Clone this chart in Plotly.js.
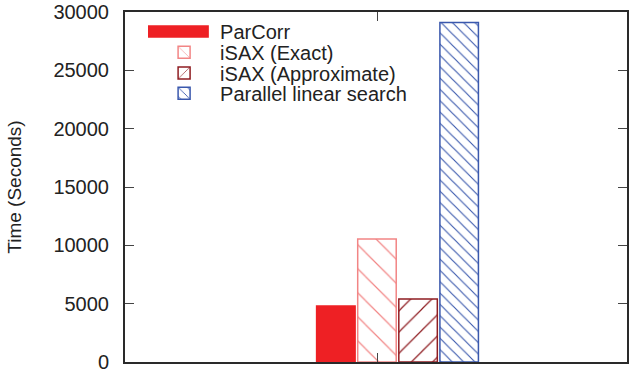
<!DOCTYPE html>
<html>
<head>
<meta charset="utf-8">
<script src="https://cdn.plot.ly/plotly-3.0.1.min.js"></script>
<style>
html,body{margin:0;padding:0;background:#fff;}
#chart{width:629px;height:372px;}
</style>
</head>
<body>
<div id="chart"></div>
<script>
// ---- data ----
const seriesNames = ['ParCorr', 'iSAX (Exact)', 'iSAX (Approximate)', 'Parallel linear search'];
const timeSeconds = [4800, 10550, 5400, 29100];
const groupPosition = [0];
const yTickValues = [0, 5000, 10000, 15000, 20000, 25000, 30000];
const yTickLabels = ['0', '5000', '10000', '15000', '20000', '25000', '30000'];

// ---- styles ----
const styles = [
  {color: '#ee2024', pattern: {shape: ''}},
  {color: '#f28585', pattern: {shape: '\\', size: 17, solidity: 0.07, fgcolor: '#f28585', bgcolor: '#ffffff'}},
  {color: '#8f1d22', pattern: {shape: '/', size: 15, solidity: 0.08, fgcolor: '#8f1d22', bgcolor: '#ffffff'}},
  {color: '#3a58ad', pattern: {shape: '\\', size: 8, solidity: 0.14, fgcolor: '#3a58ad', bgcolor: '#ffffff'}}
];
const legendNames = ['legend', 'legend2', 'legend3', 'legend4'];

const traces = seriesNames.map((name, i) => ({
  type: 'bar',
  name: name,
  x: groupPosition,
  y: [timeSeconds[i]],
  legend: legendNames[i],
  marker: {
    color: i === 0 ? styles[i].color : '#ffffff',
    line: {color: styles[i].color, width: 1.5},
    pattern: styles[i].pattern
  },
  hoverinfo: 'skip'
}));

const font = {family: '"Liberation Sans", Arial, Helvetica, sans-serif', color: '#222222'};
const legendRowsY = [0.944, 0.885, 0.826, 0.768];
const layoutLegends = {};
legendNames.forEach((ln, i) => {
  layoutLegends[ln] = {
    x: 0.046, y: legendRowsY[i], xanchor: 'left', yanchor: 'middle',
    bgcolor: 'rgba(0,0,0,0)', borderwidth: 0,
    font: Object.assign({size: 20}, font),
    itemwidth: 62, itemclick: false, itemdoubleclick: false
  };
});

const layout = Object.assign({
  width: 629, height: 372,
  margin: {l: 125, r: 2, t: 12, b: 10},
  paper_bgcolor: '#ffffff', plot_bgcolor: '#ffffff',
  font: font,
  barmode: 'group',
  bargap: 0.345,
  bargroupgap: 0.063,
  showlegend: true,
  xaxis: {
    type: 'linear', range: [-1.0857, 0.9143],
    showgrid: false, zeroline: false,
    showline: true, linecolor: '#2a2a2a', linewidth: 2, mirror: 'ticks',
    tickmode: 'array', tickvals: [-0.0817], ticktext: [''],
    ticks: 'inside', ticklen: 9, tickcolor: '#444444', tickwidth: 1,
    showticklabels: false, fixedrange: true
  },
  yaxis: {
    range: [0, 30000],
    showgrid: false, zeroline: false,
    showline: true, linecolor: '#2a2a2a', linewidth: 2, mirror: 'ticks',
    tickmode: 'array', tickvals: yTickValues, ticktext: yTickLabels,
    ticks: 'inside', ticklen: 9, tickcolor: '#444444', tickwidth: 1,
    tickfont: Object.assign({size: 20}, font),
    ticklabelstandoff: 10,
    ticklabeloverflow: 'allow',
    title: {text: 'Time (Seconds)', font: Object.assign({size: 19}, font), standoff: 27},
    automargin: false, fixedrange: true
  }
}, layoutLegends);

const gdDiv = document.getElementById('chart');

function widenSwatches() {
  const texts = gdDiv.querySelectorAll('text.legendtext');
  for (let t = 0; t < texts.length; t++) {
    try {
      const text = texts[t];
      const item = text.parentNode;
      const tb = text.getBoundingClientRect();
      if (!tb.width) continue;
      const paths = item.querySelectorAll('path');
      for (let k = 0; k < paths.length; k++) {
        try {
          const path = paths[k];
          if (path.getAttribute('data-wide') && path.getAttribute('d') === path.getAttribute('data-wide')) continue;
          const pb = path.getBoundingClientRect();
          if (pb.width === 0 || pb.width > 20) continue;
          const cx = (pb.left + pb.right) / 2;
          const x0 = (tb.left - 73 - cx).toFixed(2);
          const x1 = (tb.left - 12 - cx).toFixed(2);
          const d = `M${x0},-5.5H${x1}V5.5H${x0}Z`;
          path.setAttribute('data-wide', d);
          path.setAttribute('d', d);
        } catch (e) { /* keep going */ }
      }
    } catch (e) { /* keep going */ }
  }
}

const observer = new MutationObserver(() => widenSwatches());
observer.observe(gdDiv, {childList: true, subtree: true});

Plotly.newPlot(gdDiv, traces, layout, {displayModeBar: false, staticPlot: true}).then(gd => {
  widenSwatches();
  gd.on('plotly_afterplot', widenSwatches);
  setTimeout(widenSwatches, 0);
  setTimeout(widenSwatches, 300);
  setTimeout(() => { widenSwatches(); observer.disconnect(); }, 3000);
});
</script>
</body>
</html>
